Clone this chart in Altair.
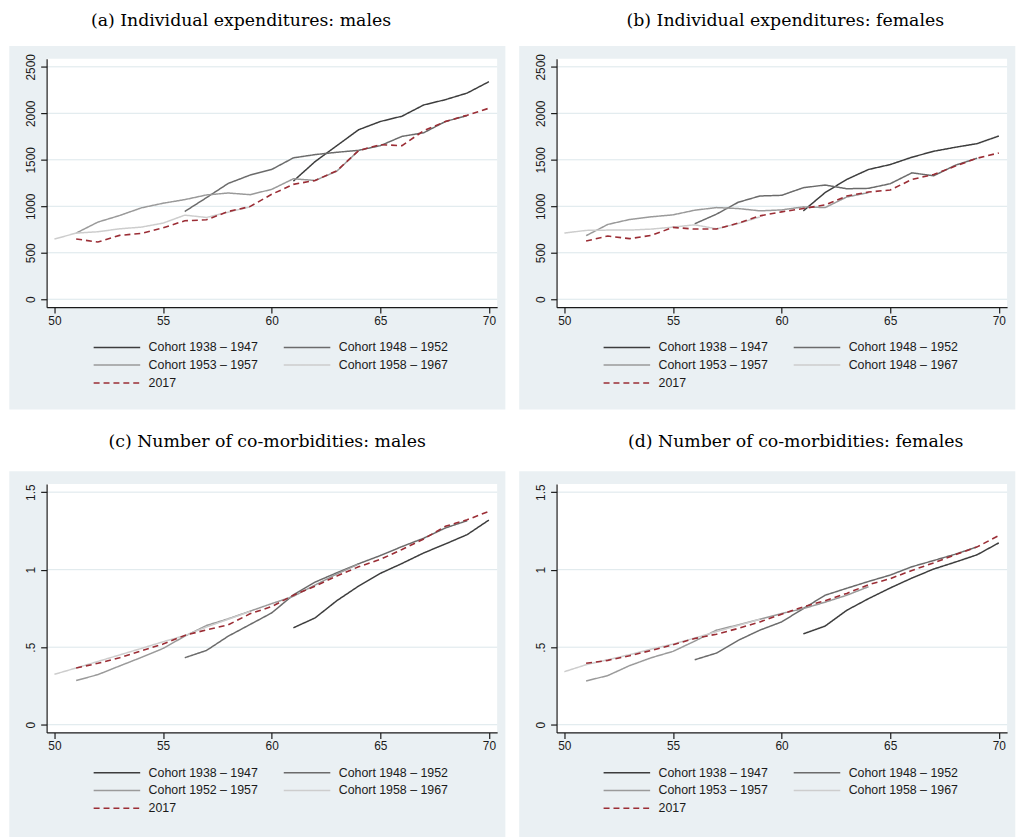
import altair as alt
import pandas as pd

# ---------------- data ----------------
AGES_C1 = list(range(61, 71))
AGES_C2 = list(range(56, 70))
AGES_C3 = list(range(51, 65))
AGES_C4 = list(range(50, 60))
AGES_2017 = list(range(51, 71))
AGE_SETS = [AGES_C1, AGES_C2, AGES_C3, AGES_C4, AGES_2017]

LABELS_A = ["Cohort 1938 – 1947", "Cohort 1948 – 1952", "Cohort 1953 – 1957", "Cohort 1958 – 1967", "2017"]
LABELS_B = ["Cohort 1938 – 1947", "Cohort 1948 – 1952", "Cohort 1953 – 1957", "Cohort 1948 – 1967", "2017"]
LABELS_C = ["Cohort 1938 – 1947", "Cohort 1948 – 1952", "Cohort 1952 – 1957", "Cohort 1958 – 1967", "2017"]
LABELS_D = ["Cohort 1938 – 1947", "Cohort 1948 – 1952", "Cohort 1953 – 1957", "Cohort 1958 – 1967", "2017"]

# (a) Individual expenditures: males
A_C1 = [1271, 1481, 1652, 1823, 1912, 1969, 2090, 2147, 2218, 2340]
A_C2 = [944, 1093, 1246, 1335, 1396, 1521, 1556, 1581, 1602, 1652, 1752, 1791, 1912, 1976]
A_C3 = [712, 830, 901, 983, 1033, 1072, 1122, 1143, 1125, 1182, 1296, 1278, 1378, 1599]
A_C4 = [648, 712, 726, 758, 776, 819, 905, 880, 937, 994]
A_2017 = [648, 616, 687, 709, 769, 844, 855, 944, 997, 1129, 1236, 1278, 1382, 1599, 1663,
          1652, 1813, 1912, 1980, 2055]

# (b) Individual expenditures: females
B_C1 = [951, 1147, 1289, 1396, 1449, 1528, 1592, 1635, 1674, 1756]
B_C2 = [812, 915, 1043, 1111, 1118, 1200, 1229, 1189, 1193, 1243, 1360, 1328, 1442, 1517]
B_C3 = [684, 805, 858, 887, 908, 958, 986, 976, 951, 961, 994, 986, 1100, 1147]
B_C4 = [712, 741, 744, 744, 755, 776, 801, 758, 815, 885]
B_2017 = [627, 680, 652, 687, 773, 755, 755, 819, 897, 940, 976, 1015, 1111, 1154, 1175,
          1289, 1343, 1432, 1517, 1574]

# (c) Number of co-morbidities: males
C_C1 = [0.625, 0.689, 0.800, 0.894, 0.976, 1.040, 1.108, 1.166, 1.226, 1.320]
C_C2 = [0.432, 0.479, 0.571, 0.646, 0.721, 0.837, 0.920, 0.980, 1.038, 1.091, 1.149, 1.203, 1.269, 1.316]
C_C3 = [0.285, 0.323, 0.379, 0.434, 0.492, 0.571, 0.640, 0.683, 0.732, 0.781, 0.828, 0.901, 0.972, 1.036]
C_C4 = [0.325, 0.366, 0.408, 0.450, 0.492, 0.535, 0.575, 0.630, 0.680, 0.730]
C_2017 = [0.366, 0.396, 0.432, 0.477, 0.520, 0.576, 0.612, 0.644, 0.715, 0.762, 0.835, 0.894,
          0.959, 1.019, 1.066, 1.130, 1.198, 1.280, 1.322, 1.376]

# (d) Number of co-morbidities: females
D_C1 = [0.586, 0.636, 0.738, 0.813, 0.882, 0.946, 1.004, 1.049, 1.096, 1.173]
D_C2 = [0.419, 0.462, 0.544, 0.610, 0.663, 0.749, 0.835, 0.880, 0.924, 0.965, 1.019, 1.059, 1.100, 1.147]
D_C3 = [0.282, 0.317, 0.381, 0.432, 0.473, 0.539, 0.610, 0.644, 0.680, 0.717, 0.749, 0.790, 0.835, 0.890]
D_C4 = [0.342, 0.387, 0.419, 0.452, 0.488, 0.520, 0.559, 0.600, 0.640, 0.680]
D_2017 = [0.396, 0.415, 0.445, 0.479, 0.516, 0.556, 0.584, 0.621, 0.663, 0.713, 0.760, 0.800,
          0.847, 0.903, 0.942, 0.995, 1.044, 1.096, 1.147, 1.220]

TITLES = ["(a) Individual expenditures: males", "(b) Individual expenditures: females",
          "(c) Number of co-morbidities: males", "(d) Number of co-morbidities: females"]

X_TICKS = [50, 55, 60, 65, 70]
EXP_TICKS = [0, 500, 1000, 1500, 2000, 2500]
COM_TICKS = [0, 0.5, 1, 1.5]

# ---------------- style ----------------
COLORS = ["#3d3d3d", "#6b6b6b", "#9a9a9a", "#cdcdcd", "#9b2d35"]
DASHES = [[1, 0], [1, 0], [1, 0], [1, 0], [6, 4]]
BG = "#eaf0f3"
GRID = "#dce7eb"
AX = "#1a1a1a"
W, H = 455, 251
XDOM = [49.64, 70.38]


def make_panel(labels, series, title, tx, ty, ydom, yticks, yfmt, ylabexpr, bg_bottom):
    rows = []
    for lab, ages, vals in zip(labels, AGE_SETS, series):
        for a, v in zip(ages, vals):
            rows.append({"age": a, "val": v, "series": lab})
    df = pd.DataFrame(rows)

    xaxis = alt.Axis(values=X_TICKS, title=None, grid=False, tickSize=6, tickWidth=1.2,
                     tickColor=AX, domainColor=AX, domainWidth=1.2, labelColor=AX,
                     labelFont="Liberation Sans", labelFontSize=12, labelPadding=2,
                     labelFlush=False, labelOverlap=False, zindex=1)
    yargs = dict(values=yticks, title=None, grid=False, tickSize=6, tickWidth=1.2,
                 tickColor=AX, domainColor=AX, domainWidth=1.2, labelColor=AX,
                 labelFont="Liberation Sans", labelFontSize=12, labelPadding=3,
                 labelAngle=270, labelAlign="center", labelBaseline="bottom",
                 labelFlush=False, labelOverlap=False, zindex=1)
    if yfmt:
        yargs["format"] = yfmt
    if ylabexpr:
        yargs["labelExpr"] = ylabexpr
    yaxis = alt.Axis(**yargs)

    xenc = alt.X("age:Q", scale=alt.Scale(domain=XDOM, nice=False, zero=False), axis=xaxis)
    yenc = alt.Y("val:Q", scale=alt.Scale(domain=ydom, nice=False, zero=False), axis=yaxis)

    legend = alt.Legend(title=None, orient="none", legendX=46.5, legendY=285.5, columns=2,
                        direction="horizontal",
                        symbolType="stroke", symbolSize=2209, symbolStrokeWidth=1.5,
                        labelFont="Liberation Sans", labelFontSize=12.5, labelColor=AX,
                        labelOffset=7.5, columnPadding=24, rowPadding=5, clipHeight=12,
                        padding=0, zindex=1)
    color = alt.Color("series:N", scale=alt.Scale(domain=labels, range=COLORS), legend=legend)
    dash = alt.StrokeDash("series:N", scale=alt.Scale(domain=labels, range=DASHES), legend=legend)

    one = pd.DataFrame({"k": [0]})
    bg = alt.Chart(one).mark_rect(color=BG).encode(
        x=alt.value(-37.7), x2=alt.value(463.3), y=alt.value(-12.7), y2=alt.value(bg_bottom))
    plotbg = alt.Chart(one).mark_rect(color="white").encode(
        x=alt.value(0), x2=alt.value(W), y=alt.value(0), y2=alt.value(H))
    grid = alt.Chart(pd.DataFrame({"val": yticks})).mark_rule(color=GRID, strokeWidth=1).encode(y=yenc)
    ttl = alt.Chart(one).mark_text(text=title, font="DejaVu Serif", fontSize=17.5, align="center",
                                   baseline="alphabetic", color="black").encode(
        x=alt.value(tx), y=alt.value(ty))
    cohorts = alt.Chart(df[df.series != "2017"]).mark_line(strokeWidth=1.5).encode(
        x=xenc, y=yenc, color=color, strokeDash=dash)
    y2017 = alt.Chart(df[df.series == "2017"]).mark_line(strokeWidth=1.6).encode(
        x=xenc, y=yenc, color=color, strokeDash=dash)
    return alt.layer(bg, plotbg, grid, ttl, cohorts, y2017).properties(width=W, height=H)


EXP_DOM = [-85, 2588]
COM_DOM = [-0.05, 1.553]
COM_EXPR = "datum.value == 0.5 ? '.5' : format(datum.value, '~g')"

pa = make_panel(LABELS_A, [A_C1, A_C2, A_C3, A_C4, A_2017], TITLES[0], 196.3, -32.7,
                EXP_DOM, EXP_TICKS, "d", None, 354.3)
pb = make_panel(LABELS_B, [B_C1, B_C2, B_C3, B_C4, B_2017], TITLES[1], 231.0, -32.7,
                EXP_DOM, EXP_TICKS, "d", None, 354.3)
pc = make_panel(LABELS_C, [C_C1, C_C2, C_C3, C_C4, C_2017], TITLES[2], 222.8, -37.7,
                COM_DOM, COM_TICKS, None, COM_EXPR, 360)
pd_ = make_panel(LABELS_D, [D_C1, D_C2, D_C3, D_C4, D_2017], TITLES[3], 241.5, -37.7,
                 COM_DOM, COM_TICKS, None, COM_EXPR, 360)

RES = dict(color="independent", strokeDash="independent", x="independent", y="independent")

row1 = alt.hconcat(pa, pb, spacing=13).resolve_scale(**RES).resolve_legend(
    color="independent", strokeDash="independent")
row2 = alt.hconcat(pc, pd_, spacing=13).resolve_scale(**RES).resolve_legend(
    color="independent", strokeDash="independent")

chart = alt.vconcat(row1, row2, spacing=22.5).resolve_scale(**RES).resolve_legend(
    color="independent", strokeDash="independent").properties(
    padding={"left": 1, "top": 0, "right": 0, "bottom": 0},
    background="white",
).configure_view(stroke=None, fill=None)

chart.save("out.html", embed_options={"renderer": "svg", "actions": False})
